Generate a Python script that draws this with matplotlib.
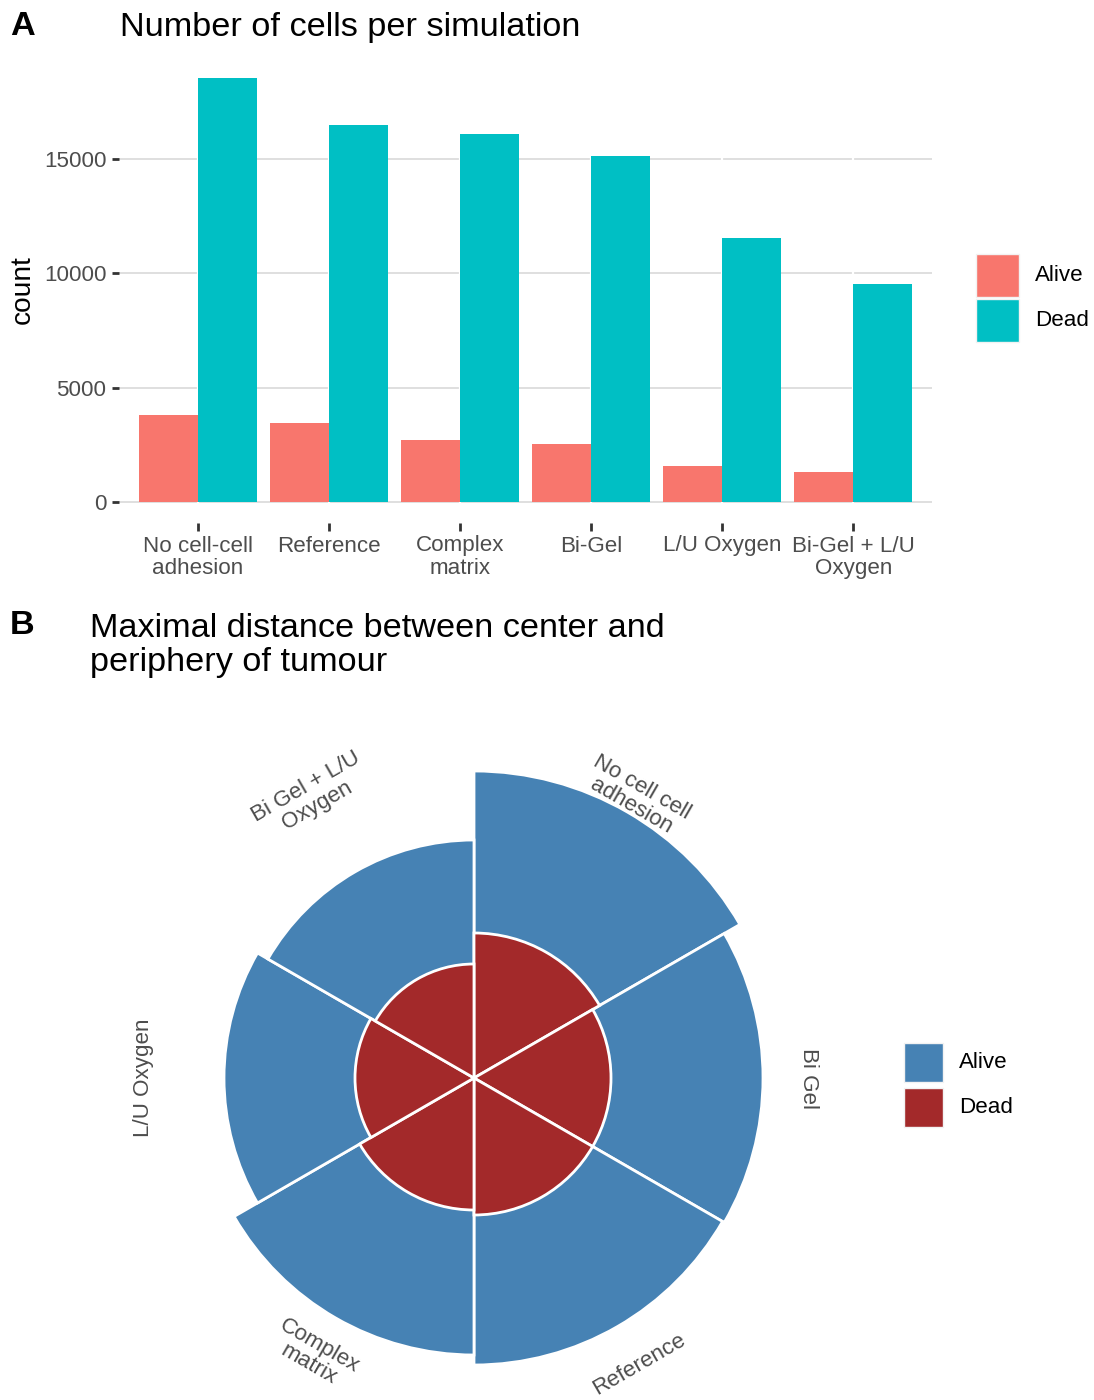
import numpy as np
import matplotlib
matplotlib.use("Agg")
import matplotlib.pyplot as plt
from matplotlib.patches import Rectangle

plt.rcParams['font.family'] = ['Liberation Sans', 'DejaVu Sans']

# ---- data: number of cells per simulation ----
simulations = ["No cell-cell\nadhesion", "Reference", "Complex\nmatrix",
               "Bi-Gel", "L/U Oxygen", "Bi-Gel + L/U\nOxygen"]
alive_count = [3800, 3450, 2710, 2530, 1570, 1310]
dead_count = [18540, 16490, 16090, 15130, 11550, 9530]

# ---- data: maximal distance from tumour centre ----
radial_conditions = ["No cell cell\nadhesion", "Bi Gel", "Reference",
                     "Complex\nmatrix", "L/U Oxygen", "Bi Gel + L/U\nOxygen"]
alive_distance = [307, 289, 287, 277, 250, 238]
dead_distance = [145, 137, 137, 132, 119, 114]

status_levels = ["Alive", "Dead"]

COL_ALIVE = "#F8766D"
COL_DEAD = "#00BFC4"
COL_ALIVE_B = "#4682B4"
COL_DEAD_B = "#A3292A"
TICK_GREY = "#4D4D4D"
TITLE_PT = 24.7
TICK_PT = 16.1

W, H = 1094, 1400
fig = plt.figure(figsize=(W / 100, H / 100), dpi=100)


def fx(px):
    return px / W


def fy(py):
    return 1 - py / H


def draw_legend(x0, y0, key, gap, colors):
    """Legend keys stacked vertically, positioned in figure pixels."""
    for i, (lab, col) in enumerate(zip(status_levels, colors)):
        top = y0 + i * (key + gap)
        fig.add_artist(Rectangle((fx(x0), fy(top + key)), fx(key), key / H,
                                 transform=fig.transFigure, facecolor=col,
                                 edgecolor="#F2F2F2", linewidth=1))
        fig.text(fx(x0 + key + 16), fy(top + key / 2), lab, fontsize=TICK_PT,
                 va="center", ha="left", color="black")


# ================= Panel A =================
left, right, top, bottom = 119, 932, 57, 523
axA = fig.add_axes([fx(left), fy(bottom), fx(right - left), (bottom - top) / H])

x = np.arange(len(simulations))
bw = 0.45
axA.bar(x - bw / 2, alive_count, width=bw, color=COL_ALIVE, zorder=3)
axA.bar(x + bw / 2, dead_count, width=bw, color=COL_DEAD, zorder=3)

ymax = max(dead_count)
axA.set_ylim(-0.05 * ymax, ymax * 1.05)
axA.set_xlim(-0.6, len(simulations) - 0.4)
axA.set_yticks([0, 5000, 10000, 15000])
axA.set_xticks(x)
axA.set_xticklabels(simulations, linespacing=1.1)
axA.tick_params(axis='y', labelsize=TICK_PT, labelcolor=TICK_GREY, length=5, width=2,
                color="#333333", pad=4)
axA.tick_params(axis='x', labelsize=TICK_PT, labelcolor=TICK_GREY, length=6, width=2,
                color="#333333", pad=3)
for s in axA.spines.values():
    s.set_visible(False)
axA.grid(axis='y', color="#D9D9D9", linewidth=1.2, zorder=0)
# white vertical grid lines at the category positions
for xi in x:
    axA.axvline(xi, color="white", linewidth=1.6, zorder=1)
axA.set_axisbelow(True)
axA.set_ylabel("count", fontsize=20.2, labelpad=6)

draw_legend(976, 254, 43, 2, [COL_ALIVE, COL_DEAD])

fig.text(fx(10), fy(35), "A", fontsize=TITLE_PT, fontweight="bold", va="baseline")
fig.text(fx(120), fy(36), "Number of cells per simulation", fontsize=TITLE_PT,
         va="baseline")

# ================= Panel B =================
cx, cy, R = 474, 1078, 345
axB = fig.add_axes([fx(cx - R), fy(cy + R), fx(2 * R), 2 * R / H], projection="polar")
axB.set_theta_zero_location("N")
axB.set_theta_direction(-1)
n = len(radial_conditions)
theta = np.arange(n) * 2 * np.pi / n + np.pi / n
width = 2 * np.pi / n
axB.bar(theta, alive_distance, width=width, color=COL_ALIVE_B, edgecolor="white",
        linewidth=2, zorder=2)
axB.bar(theta, dead_distance, width=width, color=COL_DEAD_B, edgecolor="white",
        linewidth=2, zorder=3)
axB.set_ylim(0, R)
axB.set_xticks([])
axB.set_yticks([])
axB.grid(False)
axB.spines['polar'].set_visible(False)
axB.patch.set_alpha(0)

label_r = [325, 334, 331, 320, 331, 325]
for th, lab, lr in zip(theta, radial_conditions, label_r):
    rot = (-np.degrees(th) + 180) % 360 - 180
    if rot > 90:
        rot -= 180
    elif rot < -90:
        rot += 180
    axB.text(th, lr, lab, rotation=rot, rotation_mode="anchor", ha="center",
             va="center", fontsize=TICK_PT, color=TICK_GREY, linespacing=1.05,
             zorder=5)

draw_legend(904, 1043, 39, 6, [COL_ALIVE_B, COL_DEAD_B])

fig.text(fx(10), fy(634), "B", fontsize=TITLE_PT, fontweight="bold", va="baseline")
fig.text(fx(90), fy(637), "Maximal distance between center and",
         fontsize=TITLE_PT, va="baseline")
fig.text(fx(90), fy(671), "periphery of tumour", fontsize=TITLE_PT, va="baseline")

fig.savefig("out.png", dpi=100)
